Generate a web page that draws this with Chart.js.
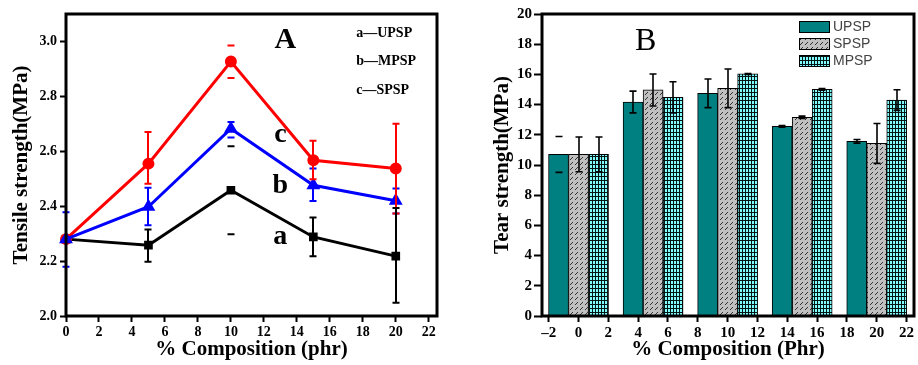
<!DOCTYPE html>
<html><head><meta charset="utf-8">
<script src="https://cdn.jsdelivr.net/npm/chart.js@4/dist/chart.umd.min.js"></script>
<style>
html,body{margin:0;padding:0;background:#fff;}
#wrap{position:relative;width:918px;height:365px;overflow:hidden;background:#fff;}
#ca{position:absolute;left:0;top:0;}
#cb{position:absolute;left:460px;top:0;}
</style></head><body>
<div id="wrap"><canvas id="ca" width="460" height="365"></canvas><canvas id="cb" width="458" height="365"></canvas></div>
<script>
// ---------- Panel A data (Tensile strength, MPa) ----------
const compA = [0, 5, 10, 15, 20];
const upspA = [2.28, 2.258, 2.458, 2.288, 2.218];
const upspALo = [2.28, 2.198, 2.298, 2.218, 2.048];
const upspAHi = [2.28, 2.315, 2.618, 2.359, 2.393];
const mpspA = [2.28, 2.398, 2.682, 2.476, 2.42];
const mpspALo = [2.179, 2.331, 2.65, 2.419, 2.373];
const mpspAHi = [2.378, 2.467, 2.707, 2.537, 2.464];
const spspA = [2.28, 2.555, 2.927, 2.567, 2.537];
const spspALo = [2.28, 2.482, 2.867, 2.498, 2.373];
const spspAHi = [2.28, 2.67, 2.985, 2.638, 2.70];
const stemA = [true, true, false, true, true];
const legendA = ['a\u2014UPSP', 'b\u2014MPSP', 'c\u2014SPSP'];

// ---------- Panel B data (Tear strength, MPa) ----------
const compB = [0, 5, 10, 15, 20];
const seriesB = ['UPSP', 'SPSP', 'MPSP'];
const upspB = [10.7, 14.17, 14.75, 12.56, 11.57];
const upspBErr = [1.19, 0.72, 0.95, 0.05, 0.12];
const spspB = [10.7, 14.97, 15.08, 13.16, 11.43];
const spspBErr = [1.15, 1.06, 1.28, 0.08, 1.32];
const mpspB = [10.7, 14.48, 16.03, 15.01, 14.3];
const mpspBErr = [1.15, 1.03, 0.03, 0.05, 0.68];
const stemB = [[false, true, true, true, true], [true, true, true, true, true], [true, true, true, true, true]];

const SERIF = "'Liberation Serif', 'Times New Roman', serif";
const SANS = "'Liberation Sans', Arial, sans-serif";

// patterns
function hatchPattern() {
  const c = document.createElement('canvas'); c.width = 5; c.height = 5;
  const g = c.getContext('2d');
  g.fillStyle = '#c0c0c0'; g.fillRect(0, 0, 5, 5);
  g.fillStyle = '#333';
  g.fillRect(0, 4, 1, 1); g.fillRect(1, 3, 1, 1); g.fillRect(2, 2, 1, 1);
  return g.createPattern(c, 'repeat');
}
function gridPattern() {
  const c = document.createElement('canvas'); c.width = 6; c.height = 8;
  const g = c.getContext('2d');
  g.fillStyle = '#80ffff'; g.fillRect(0, 0, 6, 8);
  g.fillStyle = '#061414';
  g.fillRect(0, 0, 1, 8); g.fillRect(3, 0, 1, 8);
  g.fillRect(0, 0, 6, 1); g.fillRect(0, 4, 6, 1);
  return g.createPattern(c, 'repeat');
}

const errorBars = {
  id: 'errorBars',
  afterDatasetsDraw(chart) {
    const ctx = chart.ctx, ys = chart.scales.y;
    chart.data.datasets.forEach((ds, di) => {
      if (!ds.errLo) return;
      const meta = chart.getDatasetMeta(di);
      ctx.save();
      ctx.strokeStyle = ds.errColor || '#000';
      ctx.lineWidth = ds.errWidth || 2;
      meta.data.forEach((el, i) => {
        const lo = ds.errLo[i], hi = ds.errHi[i];
        if (Math.abs(hi - lo) < 1e-9) return;
        const x = Math.round(el.x), yl = ys.getPixelForValue(lo), yh = ys.getPixelForValue(hi);
        const w = ds.capHalf || 3.5;
        ctx.beginPath();
        if (!ds.errStem || ds.errStem[i]) { ctx.moveTo(x, yl); ctx.lineTo(x, yh); }
        ctx.moveTo(x - w, yl); ctx.lineTo(x + w, yl);
        ctx.moveTo(x - w, yh); ctx.lineTo(x + w, yh);
        ctx.stroke();
      });
      ctx.restore();
    });
  }
};

const frame = {
  id: 'frame',
  afterDraw(chart) {
    const a = chart.chartArea, ctx = chart.ctx;
    ctx.save(); ctx.strokeStyle = '#000'; ctx.lineWidth = 3;
    ctx.strokeRect(a.left, a.top, a.right - a.left, a.bottom - a.top);
    ctx.restore();
  }
};

const annot = {
  id: 'annot',
  afterDraw(chart, args, opts) {
    const ctx = chart.ctx, xs = chart.scales.x, ys = chart.scales.y;
    (opts.items || []).forEach(it => {
      ctx.save();
      ctx.font = it.font; ctx.fillStyle = it.color || '#000';
      ctx.textAlign = it.align || 'left'; ctx.textBaseline = 'middle';
      ctx.fillText(it.text, xs.getPixelForValue(it.x), ys.getPixelForValue(it.y));
      ctx.restore();
    });
  }
};

const legendB = {
  id: 'legendB',
  afterDraw(chart, args, opts) {
    if (!opts.show) return;
    const ctx = chart.ctx, a = chart.chartArea;
    chart.data.datasets.forEach((ds, i) => {
      const x = a.right - 115, y = a.top + 7 + i * 17;
      ctx.save();
      ctx.fillStyle = ds.backgroundColor; ctx.fillRect(x, y, 30, 11);
      ctx.strokeStyle = '#000'; ctx.lineWidth = 1; ctx.strokeRect(x + 0.5, y + 0.5, 30, 11);
      ctx.fillStyle = '#444'; ctx.font = '14px ' + SANS; ctx.textBaseline = 'middle';
      ctx.fillText(ds.label, x + 34, y + 6);
      ctx.restore();
    });
  }
};

function axisCommon(extra) {
  return Object.assign({
    grid: { display: true, drawOnChartArea: false, drawTicks: true, tickLength: 6, tickWidth: 2, tickColor: '#000', color: '#000' },
    border: { display: false },
  }, extra);
}

const xyA = arr => arr.map((v, i) => ({ x: compA[i], y: v }));

new Chart(document.getElementById('ca'), {
  type: 'line',
  data: {
    datasets: [
      { label: 'MPSP', data: xyA(mpspA), borderColor: '#0000ff', backgroundColor: '#0000ff', borderWidth: 3,
        pointStyle: 'triangle', pointRadius: 5, clip: false, errLo: mpspALo, errHi: mpspAHi, errStem: stemA, errColor: '#0000ff' },
      { label: 'SPSP', data: xyA(spspA), borderColor: '#ff0000', backgroundColor: '#ff0000', borderWidth: 3,
        pointStyle: 'circle', pointRadius: 4.5, clip: false, errLo: spspALo, errHi: spspAHi, errStem: stemA, errColor: '#ff0000' },
      { label: 'UPSP', data: xyA(upspA), borderColor: '#000', backgroundColor: '#000', borderWidth: 3,
        pointStyle: 'rect', pointRadius: 4, clip: false, errLo: upspALo, errHi: upspAHi, errStem: stemA, errColor: '#000' }
    ]
  },
  options: {
    responsive: false, animation: false, devicePixelRatio: 1,
    layout: { padding: { top: 14, right: 23, left: 0, bottom: 0 } },
    plugins: {
      legend: { display: false }, tooltip: { enabled: false },
      annot: { items: [
        { text: 'A', x: 13.3, y: 3.005, font: 'bold 30px ' + SERIF, align: 'center' },
        { text: legendA[0], x: 17.6, y: 3.03, font: 'bold 14px ' + SERIF },
        { text: legendA[1], x: 17.6, y: 2.926, font: 'bold 14px ' + SERIF },
        { text: legendA[2], x: 17.6, y: 2.82, font: 'bold 14px ' + SERIF },
        { text: 'c', x: 13.0, y: 2.66, font: 'bold 28px ' + SERIF, align: 'center' },
        { text: 'b', x: 13.0, y: 2.475, font: 'bold 28px ' + SERIF, align: 'center' },
        { text: 'a', x: 13.0, y: 2.29, font: 'bold 28px ' + SERIF, align: 'center' }
      ] }
    },
    scales: {
      x: axisCommon({
        type: 'linear', min: 0, max: 22.5,
        ticks: { stepSize: 2, includeBounds: false, color: '#000', padding: 2, font: { family: SERIF, size: 14, weight: 'bold' } },
        title: { display: true, text: '% Composition (phr)', color: '#000', padding: { top: 0, bottom: 3 }, font: { family: SERIF, size: 21, weight: 'bold' } },
        afterFit: s => { s.height = 49; }
      }),
      y: axisCommon({
        type: 'linear', min: 2.0, max: 3.1,
        ticks: { stepSize: 0.2, includeBounds: false, color: '#000', padding: 3, font: { family: SERIF, size: 14, weight: 'bold' },
          callback: v => Number(v).toFixed(1) },
        title: { display: true, text: 'Tensile strength(MPa)', color: '#000', padding: { top: 9, bottom: 0 }, font: { family: SERIF, size: 21, weight: 'bold' } },
        afterFit: s => { s.width = 66; }
      })
    }
  },
  plugins: [errorBars, frame, annot]
});

const valsB = [upspB, spspB, mpspB];
const errsB = [upspBErr, spspBErr, mpspBErr];
const fillsB = ['#008080', hatchPattern(), gridPattern()];
new Chart(document.getElementById('cb'), {
  type: 'bar',
  data: {
    datasets: seriesB.map((name, k) => ({
      label: name,
      data: valsB[k].map((v, i) => ({ x: compB[i], y: v })),
      backgroundColor: fillsB[k], borderColor: '#000', borderWidth: 1,
      barThickness: 20,
      errLo: valsB[k].map((v, i) => v - errsB[k][i]),
      errHi: valsB[k].map((v, i) => v + errsB[k][i]),
      errStem: stemB[k], errColor: '#000', errWidth: 1.6, capHalf: 3.5
    }))
  },
  options: {
    responsive: false, animation: false, devicePixelRatio: 1,
    layout: { padding: { top: 14, right: 4, left: 0, bottom: 0 } },
    plugins: {
      legend: { display: false }, tooltip: { enabled: false },
      legendB: { show: true },
      annot: { items: [ { text: 'B', x: 4.5, y: 18.2, font: '32px ' + SERIF, align: 'center' } ] }
    },
    scales: {
      x: axisCommon({
        type: 'linear', min: -2.45, max: 22.5, offset: false,
        grid: { display: true, offset: false, drawOnChartArea: false, drawTicks: true, tickLength: 6, tickWidth: 2, tickColor: '#000', color: '#000' },
        ticks: { stepSize: 2, includeBounds: false, color: '#000', padding: 2, font: { family: SERIF, size: 15, weight: 'bold' },
          callback: v => String(v).replace('-', '\u2013') },
        title: { display: true, text: '% Composition (Phr)', color: '#000', padding: { top: 0, bottom: 3 }, font: { family: SERIF, size: 21, weight: 'bold' } },
        afterFit: s => { s.height = 49; }
      }),
      y: axisCommon({
        type: 'linear', min: 0, max: 20,
        grid: { display: true, drawOnChartArea: false, drawTicks: true, tickLength: 8, tickWidth: 2, tickColor: '#000', color: '#000' },
        ticks: { stepSize: 2, color: '#000', padding: 2, font: { family: SERIF, size: 15, weight: 'bold' } },
        title: { display: true, text: 'Tear strength(MPa)', color: '#000', padding: { top: 30, bottom: 0 }, font: { family: SERIF, size: 21, weight: 'bold' } },
        afterFit: s => { s.width = 82; }
      })
    }
  },
  plugins: [errorBars, frame, annot, legendB]
});
</script>
</body></html>
